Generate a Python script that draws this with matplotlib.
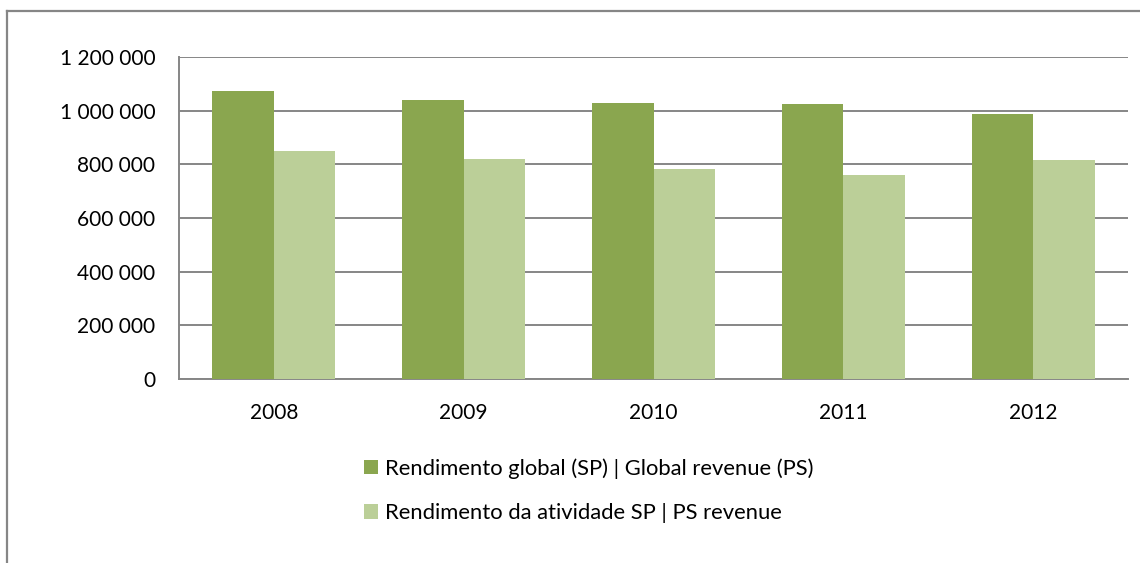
import matplotlib
matplotlib.use("Agg")
import matplotlib.pyplot as plt
from matplotlib.ticker import FuncFormatter
from matplotlib.patches import Patch
from matplotlib.lines import Line2D
import numpy as np

years = ["2008", "2009", "2010", "2011", "2012"]
global_revenue = [1074000, 1039000, 1029000, 1024000, 986000]
ps_revenue = [851000, 819000, 781000, 759000, 818000]
series_labels = ["Rendimento global (SP) | Global revenue (PS)",
                 "Rendimento da atividade SP | PS revenue"]
y_ticks = [0, 200000, 400000, 600000, 800000, 1000000, 1200000]

dark = "#8AA64F"
light = "#BBCF98"
grey = "#868686"

plt.rcParams['font.family'] = ['Lato', 'DejaVu Sans']
fs_tick = 15
fs_leg = 15.8

fig = plt.figure(figsize=(11.4, 5.63), dpi=100)
ax = fig.add_axes([179/1140, 1-379/563, (1128-179)/1140, (379-57)/563])

x = np.arange(len(years))
w = 0.324
ax.bar(x - w/2, global_revenue, width=w, color=dark, zorder=3)
ax.bar(x + w/2, ps_revenue, width=w, color=light, zorder=3)

ax.set_xlim(-0.5, len(years) - 0.5)
ax.set_ylim(0, 1200000)
ax.set_yticks(y_ticks)
ax.yaxis.set_major_formatter(FuncFormatter(lambda v, p: f"{int(v):,}".replace(",", " ")))
ax.set_xticks(x)
ax.set_xticklabels(years)
ax.tick_params(axis='y', length=0, pad=17, labelsize=fs_tick)
ax.tick_params(axis='x', length=0, pad=17, labelsize=fs_tick)
ax.grid(axis='y', color=grey, linewidth=1.4, zorder=0)
for s in ['top', 'right']:
    ax.spines[s].set_visible(False)
for s in ['left', 'bottom']:
    ax.spines[s].set_color(grey)
    ax.spines[s].set_linewidth(1.4)

handles = [Patch(facecolor=dark), Patch(facecolor=light)]
fig.legend(handles, series_labels, loc='upper left',
           bbox_to_anchor=(364/1140, 1-458/563), frameon=False,
           fontsize=fs_leg, handlelength=0.62, handleheight=0.62,
           handletextpad=0.32, labelspacing=1.12, borderpad=0, borderaxespad=0)

# outer chart border (top and left visible)
fig.add_artist(Line2D([7/1140, 1.0], [1-11/563, 1-11/563], transform=fig.transFigure,
                      color=grey, linewidth=1.6))
fig.add_artist(Line2D([7/1140, 7/1140], [0, 1-11/563], transform=fig.transFigure,
                      color=grey, linewidth=1.6))

fig.savefig("out.png", dpi=100, facecolor="white")
